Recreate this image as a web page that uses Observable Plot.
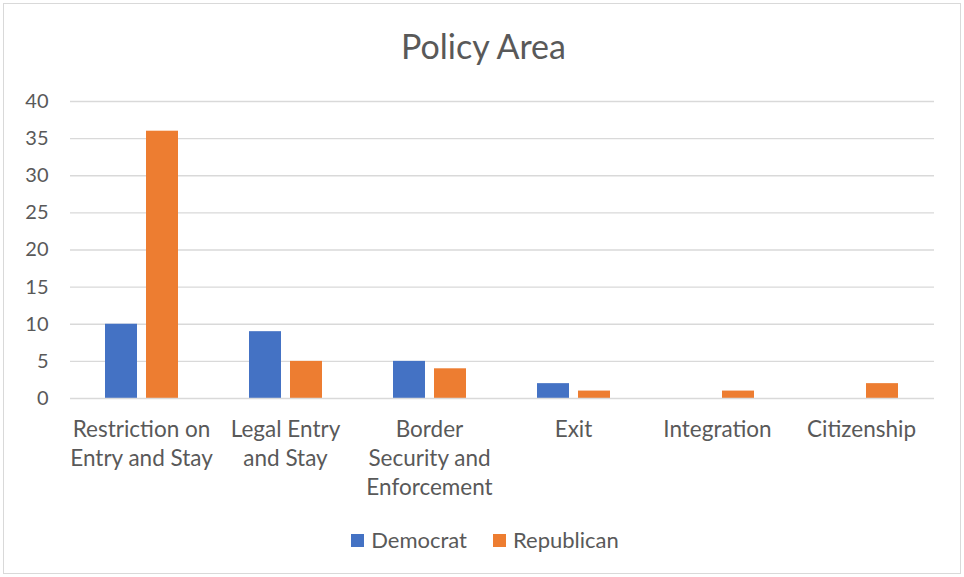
<!DOCTYPE html>
<html>
<head>
<meta charset="utf-8">
<script src="https://cdn.jsdelivr.net/npm/d3@7"></script>
<script src="https://cdn.jsdelivr.net/npm/@observablehq/plot@0.6"></script>
<style>
  html, body { margin: 0; padding: 0; background: #fff; }
  #frame { position: relative; width: 964px; height: 577px; overflow: hidden; font-family: Lato, "Open Sans", sans-serif; color: #595959; }
  #border { position: absolute; left: 3px; top: 3px; width: 956px; height: 569px; border: 1px solid #d9d9d9; pointer-events: none; }
  #title { position: absolute; left: 0; top: 25px; width: 964px; text-align: center; font-size: 34px; line-height: 42px; padding-left: 3px; box-sizing: border-box; }
  #chart { position: absolute; left: 0; top: 85px; }
  #legend { position: absolute; left: 0; top: 527px; width: 964px; display: flex; justify-content: center; gap: 26px; font-size: 22px; line-height: 26px; padding-left: 6px; box-sizing: border-box; }
  .item { display: flex; align-items: center; }
  .sw { width: 13px; height: 13px; margin-right: 7px; display: inline-block; }
</style>
</head>
<body>
<div id="frame">
  <div id="border"></div>
  <div id="title">Policy Area</div>
  <div id="chart"></div>
  <div id="legend"></div>
</div>
<script>
const categories = ["Restriction on Entry and Stay", "Legal Entry and Stay", "Border Security and Enforcement", "Exit", "Integration", "Citizenship"];
const categoryLabels = ["Restriction on\nEntry and Stay", "Legal Entry\nand Stay", "Border\nSecurity and\nEnforcement", "Exit", "Integration", "Citizenship"];
const parties = ["Democrat", "Republican"];
const democratValues = [10, 9, 5, 2, 0, 0];
const republicanValues = [36, 5, 4, 1, 1, 2];
const partyColors = ["#4472C4", "#ED7D31"];
const yTicks = [0, 5, 10, 15, 20, 25, 30, 35, 40];

const data = [];
categories.forEach((c, i) => {
  data.push({category: c, party: parties[0], value: democratValues[i]});
  data.push({category: c, party: parties[1], value: republicanValues[i]});
});
const labelOf = new Map(categories.map((c, i) => [c, categoryLabels[i]]));

const chart = Plot.plot({
  width: 964,
  height: 430,
  marginLeft: 68,
  marginRight: 29,
  marginTop: 16,
  marginBottom: 117,
  style: {fontFamily: "Lato, 'Open Sans', sans-serif", color: "#595959", background: "transparent"},
  fx: {domain: categories, paddingInner: 0, paddingOuter: 0, label: null},
  x: {domain: parties, paddingInner: 0.214, paddingOuter: 0.827, axis: null},
  y: {domain: [0, 40], label: null},
  color: {domain: parties, range: partyColors},
  marks: [
    Plot.gridY(yTicks.filter(d => d > 0), {stroke: "#d9d9d9", strokeOpacity: 1, strokeWidth: 1.3}),
    Plot.barY(data, {fx: "category", x: "party", y: "value", fill: "party"}),
    Plot.ruleY([0], {stroke: "#d9d9d9", strokeWidth: 1.5}),
    Plot.axisY({ticks: yTicks, tickSize: 0, tickPadding: 22, fontSize: 20, label: null, fill: "#595959"}),
    Plot.axisFx({anchor: "bottom", tickSize: 0, tickPadding: 18, fontSize: 22.5, lineHeight: 1.29, label: null, fill: "#595959", tickFormat: d => labelOf.get(d), dx: -1})
  ]
});
document.getElementById("chart").appendChild(chart);

const legend = document.getElementById("legend");
parties.forEach((p, i) => {
  const item = document.createElement("div");
  item.className = "item";
  const sw = document.createElement("span");
  sw.className = "sw";
  sw.style.background = partyColors[i];
  item.appendChild(sw);
  item.appendChild(document.createTextNode(p));
  legend.appendChild(item);
});
</script>
</body>
</html>
